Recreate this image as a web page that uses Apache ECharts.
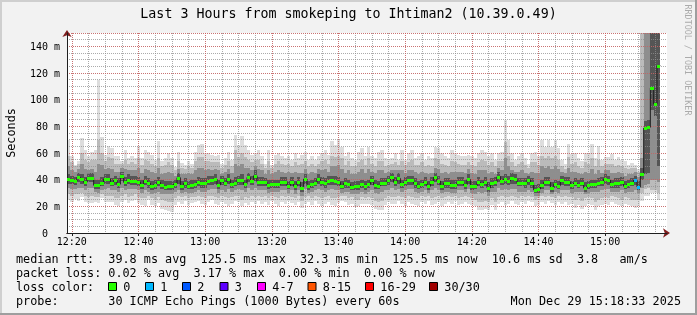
<!DOCTYPE html>
<html><head><meta charset="utf-8">
<script src="https://cdn.jsdelivr.net/npm/echarts@6/dist/echarts.min.js"></script>
<style>html,body{margin:0;padding:0;background:#f2f2f2}#c{width:697px;height:315px;will-change:transform}</style>
</head><body><div id="c"></div>
<script>
// ---------------- data ----------------
const chartTitle = 'Last 3 Hours from smokeping to Ihtiman2 (10.39.0.49)';
const yAxisTitle = 'Seconds';
const watermark = 'RRDTOOL / TOBI OETIKER';
const viewStart = '12:18:33';
const viewEnd = '15:18:33';
const firstStepStart = '12:18:33';   // one column per 60 s step
const timeTicks = ['12:20','12:40','13:00','13:20','13:40','14:00','14:20','14:40','15:00'];
const msTicks = ['0','20 m','40 m','60 m','80 m','100 m','120 m','140 m'];

// median RTT per step (ms)
const median = [
40.5,39.7,39.0,41.8,40.5,38.0,41.5,41.5,35.8,35.8,
37.6,40.5,40.5,37.6,39.5,36.6,42.7,38.0,40.0,39.2,
39.2,38.3,36.3,39.2,37.3,35.0,36.3,38.0,36.3,34.8,
35.5,35.0,36.7,41.5,35.0,37.2,35.5,36.0,36.5,38.3,
37.3,37.3,39.0,39.5,40.5,36.0,39.5,37.7,40.2,36.5,
37.7,39.7,39.7,36.5,41.7,39.0,43.0,38.0,38.0,38.0,
36.0,36.5,36.7,36.5,38.0,38.0,35.5,38.3,35.0,38.3,
34.0,40.5,35.0,36.5,37.7,40.5,38.0,37.3,39.0,39.7,
39.0,38.0,35.5,37.3,36.5,34.3,35.0,35.0,36.7,35.0,
36.5,39.7,36.0,35.5,37.7,37.7,39.7,41.7,38.0,41.0,
36.5,38.0,39.7,39.7,37.2,35.2,36.7,38.0,35.0,38.0,
41.7,39.0,35.0,37.3,37.3,36.0,36.0,38.0,38.0,36.0,
40.2,35.0,35.3,38.0,36.5,38.0,33.8,37.3,38.0,42.3,
39.0,40.5,39.0,41.0,40.5,37.7,37.7,37.2,39.7,37.2,
32.3,33.0,36.0,38.0,38.0,34.0,36.5,35.5,39.7,38.5,
38.2,35.7,37.5,36.3,37.5,33.7,35.7,36.5,36.8,37.5,
38.2,40.5,39.7,36.8,37.3,37.3,38.5,35.0,36.8,37.3,
39.7,34.5,44.5,78.7,79.3,108.7,96.7,125.5];

// lost pings per step (of 30)
const lossPings = [
0,0,0,0,0,0,0,0,0,0, 0,0,0,0,0,0,0,0,0,0, 0,0,0,0,0,0,0,0,0,0,
0,0,0,0,0,0,0,0,0,0, 0,0,0,0,0,0,0,0,0,0, 0,0,0,0,0,0,0,0,0,0,
0,0,0,0,0,0,0,0,0,0, 0,0,0,0,0,0,0,0,0,0, 0,0,0,0,0,0,0,0,0,0,
0,0,0,0,0,0,0,0,0,0, 0,0,0,0,0,0,0,0,0,0, 0,0,0,0,0,0,0,0,0,0,
0,0,0,0,0,0,0,0,0,0, 0,0,0,0,0,0,0,0,0,0, 0,0,0,0,0,0,0,0,0,0,
0,0,0,0,0,0,0,0,0,0, 0,0,0,0,0,0,0,0,0,0, 1,1,0,0,0,0,0,0];

// smoke: spread of the 30 pings per step (ms)
const pMax = [
70,57.5,51,54,71,62,57.5,61,62,115,
72,58.5,65,63.5,57.5,57.5,54,62,56,57.5,
56,65,56,62,61,58.5,55,69,54,56,
59.8,56,49.7,61,52.3,51,54,52,61,66,
67,60,60,58.5,57.5,58.5,52,56,61,55,
73.5,66,73,66,62,58.5,60,62,57.5,52,
62,51,58.5,60,57.5,56,57.5,55,60,56,
58.5,61,55,57.5,55,57.5,60,62,58.5,69,
66,70,64.8,57.5,61,56,55,61,63.5,57.5,
64.8,57.5,56,61,62,56,55,56,60,55,
62,55,60,62,56,57.5,60,55,57.5,56,
64.8,63.5,60,57.5,56,62,60,58.5,57.5,57.5,
58.5,57.5,56,60,62,61,57.5,60,55,60,
61,84.5,70,60,55,57.5,60,56,52,60,
61,57.5,69.7,64.8,69.7,64.8,69.7,63.5,55,52,
66.5,59,60,56,53.8,60,59,66.5,56,65,
55,57,57,59,55,57,55,53.8,51,52.5,
51,48,150,150,150,150,150,150];
const p90 = [
58,53,50,52,60,55,53,55,55,70,
60,54,57,56,52,52,52,55,52,53,
52,56,51,55,54,52,50,56,50,51,
53,51,47,54,49,48,50,49,54,57,
57,54,54,53,53,53,49,51,54,50,
62,57,60,57,55,53,55,55,52,49,
54,49,52,54,52,51,52,50,53,51,
52,54,50,52,50,52,54,55,52,58,
57,58,56,51,54,50,50,53,55,51,
56,52,50,54,54,50,51,52,53,51,
54,51,53,55,51,51,53,50,51,50,
56,55,52,51,50,54,53,52,51,51,
53,51,50,53,55,54,51,53,50,54,
54,68,58,53,50,52,53,51,49,53,
53,51,58,56,58,56,58,55,50,48,
57,52,53,50,49,53,52,56,50,55,
50,52,52,52,50,51,50,49,48,49,
49,46,150,150,150,150,150,150];
const p75 = [
50,47,46,48,52,48,47,48,46,52,
51,48,49,48,46,46,49,48,47,47,
47,49,45,48,47,46,45,49,44,45,
46,45,43,48,44,44,45,44,47,49,
49,47,48,47,48,47,44,46,48,45,
52,50,52,49,49,47,50,48,47,44,
47,44,46,47,46,45,46,45,46,45,
45,48,44,46,45,48,47,48,46,50,
50,51,48,45,47,44,44,46,48,45,
48,46,45,47,47,45,46,47,47,47,
47,45,47,47,46,44,46,45,44,45,
49,48,45,46,44,46,46,46,46,45,
48,45,44,47,47,47,44,46,44,49,
47,56,50,47,46,46,47,45,44,46,
45,45,50,49,50,48,50,48,46,45,
49,46,46,45,44,46,45,48,44,47,
45,47,47,45,45,46,45,43,44,44,
46,42,56,150,150,150,150,150];
const p60 = [
44,43,42,45,44,42,45,45,40,40,
42,44,44,41,43,41,46,42,44,43,
43,42,40,43,41,39,40,42,40,39,
39,39,40,45,39,41,39,40,40,42,
41,41,43,43,44,40,43,41,44,40,
42,43,44,40,45,43,47,42,42,41,
40,40,40,40,42,42,39,42,39,42,
38,44,39,40,41,44,42,41,43,43,
43,42,39,41,40,38,39,39,40,39,
40,43,40,39,41,41,43,45,42,45,
40,42,43,43,41,39,40,42,39,42,
45,43,39,41,41,40,40,42,42,40,
44,39,39,42,40,42,38,41,42,46,
43,44,43,45,44,41,41,41,43,41,
36,37,40,42,42,38,40,39,43,42,
42,39,41,40,41,38,39,40,40,41,
42,44,43,40,41,41,42,39,40,41,
43,39,49,84,85,150,150,150];
const p40 = [
37,37,36,38,37,35,38,38,33,33,
35,37,37,35,36,34,39,35,37,36,
36,35,33,36,34,32,33,35,33,32,
32,32,34,37,32,34,33,33,34,35,
34,34,36,36,37,33,36,35,37,34,
35,36,36,34,38,36,39,35,35,35,
33,34,34,34,35,35,33,35,32,35,
31,37,32,34,35,37,35,34,36,36,
36,35,33,34,34,32,32,32,34,32,
34,36,33,33,35,35,36,38,35,37,
34,35,36,36,34,33,34,35,32,35,
38,36,32,34,34,33,33,35,35,33,
37,32,33,35,34,35,31,34,35,38,
36,37,36,37,37,35,35,34,36,34,
30,30,33,35,35,31,34,33,36,35,
35,33,35,34,35,31,33,34,34,35,
35,37,36,34,34,34,35,33,34,35,
36,32,40,44,45,92,88,50];
const p25 = [
34,33,33,34,34,32,34,34,31,30,
32,33,34,32,32,31,34,32,33,33,
33,32,30,32,31,29,30,31,29,29,
29,29,31,32,30,31,30,30,31,32,
31,31,32,33,33,30,32,31,33,31,
32,33,32,31,34,32,34,32,32,32,
30,31,31,31,32,32,30,32,29,32,
28,33,30,31,32,33,32,31,32,33,
32,32,30,31,31,29,29,29,31,29,
31,32,30,29,31,32,32,34,32,33,
31,32,33,33,31,30,31,32,30,32,
34,32,30,31,31,30,30,32,32,31,
33,30,29,31,30,31,28,31,31,34,
32,33,32,33,33,31,31,31,32,31,
28,28,30,32,32,29,31,30,32,32,
32,30,31,31,31,29,30,31,31,31,
32,33,33,31,31,31,32,30,31,31,
32,30,34,36,37,40,40,38];
const p10 = [
29,28,29,29,30,28,27,28,27,27,
29,28,28,28,26,26,28,29,27,28,
29,27,26,26,28,26,25,27,25,24,
23,23,26,28,27,28,26,27,27,28,
27,26,28,28,27,26,28,27,26,27,
28,28,25,27,26,28,27,28,27,28,
26,28,27,26,28,27,28,27,26,28,
24,27,28,26,28,27,26,27,28,26,
26,27,28,28,26,27,25,25,27,26,
27,26,24,23,24,26,28,27,27,28,
27,26,28,27,26,26,28,27,28,26,
27,28,26,27,28,27,28,26,27,28,
27,26,25,23,23,24,23,26,23,27,
28,27,27,28,27,26,28,27,28,27,
25,26,28,27,28,27,26,28,27,28,
27,27,25,26,24,26,27,26,23,25,
26,27,26,28,27,26,25,27,26,25,
25,25,30,33,34,32,32,30];
const pMin = [
24.7,23.5,25.3,24,27,23.5,22.3,22.3,23,22.3,
26,23.5,23.5,23.5,21,20.3,23.5,24.7,22.3,24,
24.7,22.3,21,20.3,24.7,21,20.3,22.8,18,17,
16.5,16,21,23,22,24,21,22.5,23,24,
22,21,23,24.5,22,21,23.5,22,20.5,22,
24,23,20,22.5,21,23,21.5,24,22,23,
21,24,22,20,23,22,24,22.5,21,23,
19,22,23,21,24,22,20.5,22,23,21,
20,22.5,24,23,21,22,19.5,20,22,21.5,
22,21,18,17,17.5,21,23,22,21.5,24,
22,20,23,22,21,20.5,23,22,24,21,
22,23,20,21.5,23,22,24,21,22,23,
22,21,20,17,17.5,18,17,21,17,22,
23,21,22,24,22,21,23,22,24,23,
20,21,23,22,24,22.5,21,23,22,23,
21,22,19,21,18,20,22,21,17,20,
21,22,21,23,22,21,20,22,21,20,
19,20,24,28,28,30,30,25];

// legend text
const statsRtt = ['median rtt:','39.8 ms avg','125.5 ms max','32.3 ms min','125.5 ms now','10.6 ms sd','3.8','am/s'];
const statsLoss = ['packet loss:','0.02 % avg','3.17 % max','0.00 % min','0.00 % now'];
const lossLabels = ['0','1','2','3','4-7','8-15','16-29','30/30'];
const lossColors = ['#26ff00','#00b8ff','#0059ff','#5e00ff','#ff00ff','#ff5500','#ff0000','#a00000'];
const probeText = '30 ICMP Echo Pings (1000 Bytes) every 60s';
const dateText = 'Mon Dec 29 15:18:33 2025';

// ---------------- layout / style ----------------
const FONT = '"DejaVu Sans Mono", monospace';
const CW = 7.1, LX = 16;
const rttCols = [0,13,26,40,53,67,79,85];
const lossCols = [0,13,25,37,49];
const boxX = [108,145,182,219.5,257,307.5,365,429];
const rowY = [259,273,287,301];
const bandColors = ['#dddddd','#bbbbbb','#8e8e8e','#555555'];

const toMin = s => { const p = s.split(':').map(Number); return (p[0]-12)*60 + p[1] + (p[2]||0)/60; };
const X_MIN = toMin(viewStart), X_MAX = toMin(viewEnd), T0 = toMin(firstStepStart);
const majorX = timeTicks.map(toMin);
const minorX = []; for (let v = 20; v < X_MAX; v += 5) minorX.push(v);
const fmtTime = v => { const h = 12 + Math.floor(v/60), m = Math.round(v % 60); return h + ':' + String(m).padStart(2,'0'); };

function lossColor(n){ if(n<=0)return lossColors[0]; if(n<=3)return lossColors[n]; if(n<=7)return lossColors[4]; if(n<=15)return lossColors[5]; if(n<=29)return lossColors[6]; return lossColors[7]; }

const smokeData = median.map((m,i) => [T0+i, T0+i+1, pMin[i], p10[i], p25[i], p40[i], p60[i], p75[i], p90[i], pMax[i]]);
const medSeg = median.map((m,i) => [T0+i, T0+i+1, m, lossPings[i]]);
const medLine = median.map((m,i) => [T0+i, m]); medLine.push([T0+median.length, median[median.length-1]]);

function renderSmoke(params, api){
  const xs = api.value(0), xe = api.value(1), ch = [];
  for (let b = 0; b < 4; b++){
    const a = api.coord([xs, api.value(9-b)]), c = api.coord([xe, api.value(2+b)]);
    const x0 = Math.round(a[0]), x1 = Math.round(c[0]), y0 = Math.round(a[1]), y1 = Math.round(c[1]);
    ch.push({type:'rect', shape:{x:x0, y:y0, width:x1-x0, height:Math.max(1,y1-y0)}, style:{fill:bandColors[b]}});
  }
  return {type:'group', children: ch};
}
function renderMed(params, api){
  const a = api.coord([api.value(0), api.value(2)]), c = api.coord([api.value(1), api.value(2)]);
  const x0 = Math.round(a[0]), x1 = Math.round(c[0]), y = Math.round(a[1]);
  return {type:'rect', shape:{x:x0, y:y-1, width:x1-x0, height:3}, style:{fill: lossColor(api.value(3))}};
}

const txt = (x, y, text, size, extra) => Object.assign({type:'text', x, y, silent:true,
  style:Object.assign({text, font: size+'px '+FONT, fill:'#000', align:'left', verticalAlign:'middle'}, extra||{})});

const graphics = [
  {type:'rect', shape:{x:0,y:0,width:697,height:2}, style:{fill:'#cfcfcf'}, silent:true},
  {type:'rect', shape:{x:0,y:0,width:2,height:315}, style:{fill:'#cfcfcf'}, silent:true},
  {type:'rect', shape:{x:0,y:313,width:697,height:2}, style:{fill:'#9e9e9e'}, silent:true},
  {type:'rect', shape:{x:695,y:0,width:2,height:315}, style:{fill:'#9e9e9e'}, silent:true},
  txt(348.5, 13.5, chartTitle, 13.3, {align:'center'}),
  Object.assign(txt(11, 133, yAxisTitle, 11.8, {align:'center'}), {rotation: Math.PI/2}),
  Object.assign(txt(688, 60, watermark, 8.4, {align:'center', fill:'#ababab'}), {rotation: -Math.PI/2}),
];
statsRtt.forEach((t,i) => graphics.push(txt(LX + rttCols[i]*CW, rowY[0], t, 11.8)));
statsLoss.forEach((t,i) => graphics.push(txt(LX + lossCols[i]*CW, rowY[1], t, 11.8)));
graphics.push(txt(LX, rowY[2], 'loss color:', 11.8));
lossLabels.forEach((t,i) => {
  graphics.push({type:'rect', silent:true, shape:{x:boxX[i]+0.5, y:rowY[2]-4.5, width:8, height:8}, style:{fill:lossColors[i], stroke:'#000', lineWidth:1}});
  graphics.push(txt(boxX[i]+15.3, rowY[2], t, 11.8));
});
graphics.push(txt(LX, rowY[3], 'probe:', 11.8));
graphics.push(txt(LX + 13*CW, rowY[3], probeText, 11.8));
graphics.push(txt(681, rowY[3], dateText, 11.8, {align:'right'}));

const minorGrid = {color:'rgba(143,143,143,0.75)', type:[1,1], width:1};
const majorGrid = {color:'rgba(222,79,79,0.6)', type:[1,1], width:1};
const labelRich = {
  n:{fontFamily:FONT, fontSize:10, color:'#000'},
  z:{fontFamily:FONT, fontSize:10, color:'#000', padding:[0,12,0,0]}
};

const option = {
  animation: false,
  backgroundColor: '#f2f2f2',
  grid: {left:67, top:33, width:600, height:200, show:true, backgroundColor:'#ffffff', borderWidth:0},
  xAxis: [
    {type:'value', min:X_MIN, max:X_MAX, position:'bottom', z:2,
     axisLine:{show:true, onZero:false, lineStyle:{color:'#801f1f', width:1}, symbol:['none','arrow'], symbolSize:[7,7], symbolOffset:[0,3]},
     axisTick:{show:false, customValues:minorX}, axisLabel:{show:false, customValues:minorX},
     splitLine:{show:true, lineStyle:minorGrid}},
    {type:'value', min:X_MIN, max:X_MAX, position:'bottom', z:3,
     axisLine:{show:true, onZero:false, lineStyle:{color:'#1f1f1f', width:1}},
     axisTick:{show:true, length:3, customValues:majorX, lineStyle:{color:'#1f1f1f'}},
     axisLabel:{customValues:majorX, formatter: v => '{n|' + (timeTicks[majorX.indexOf(v)] || fmtTime(v)) + '}',
       rich: labelRich, fontFamily:FONT, fontSize:10, color:'#000', margin:3},
     splitLine:{show:true, lineStyle:majorGrid}}
  ],
  yAxis: [
    {type:'value', min:0, max:150, interval:5, position:'left', z:2,
     axisLine:{show:true, onZero:false, lineStyle:{color:'#801f1f', width:1}, symbol:['none','arrow'], symbolSize:[7,7], symbolOffset:[0,3]},
     axisTick:{show:false}, axisLabel:{show:false}, splitLine:{show:true, lineStyle:minorGrid}},
    {type:'value', min:0, max:150, interval:20, position:'left', z:3,
     axisLine:{show:true, onZero:false, lineStyle:{color:'#1f1f1f', width:1}},
     axisTick:{show:false},
     axisLabel:{showMaxLabel:false, showMinLabel:true, fontFamily:FONT, fontSize:10, color:'#000', margin:7,
       formatter: v => (v === 0 ? '{z|' : '{n|') + msTicks[Math.round(v/20)] + '}',
       rich: labelRich},
     splitLine:{show:true, lineStyle:majorGrid}}
  ],
  graphic: graphics,
  series: [
    {type:'custom', name:'smoke', xAxisIndex:0, yAxisIndex:0, z:1, clip:true, silent:true,
     renderItem: renderSmoke, encode:{x:[0,1], y:[2,3,4,5,6,7,8,9]}, data: smokeData},
    {type:'line', name:'median step', xAxisIndex:0, yAxisIndex:0, z:4, step:'end', showSymbol:false, silent:true,
     lineStyle:{color:'#1e1e1e', width:1}, data: medLine},
    {type:'custom', name:'median', xAxisIndex:0, yAxisIndex:0, z:5, clip:true, silent:true,
     renderItem: renderMed, encode:{x:[0,1], y:2}, data: medSeg}
  ]
};
const chart = echarts.init(document.getElementById('c'), null, {renderer:'svg'});
chart.setOption(option);
</script></body></html>
